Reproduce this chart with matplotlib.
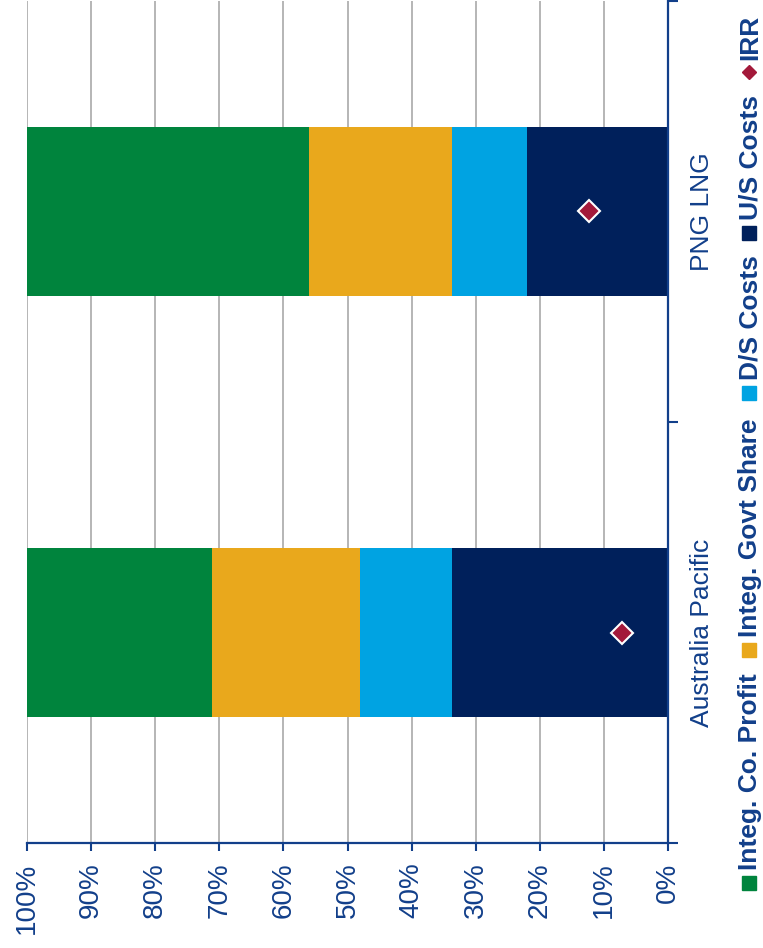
"""
Integrated value split per project, stacked 100% bars (rotated layout)
"""

import matplotlib.pyplot as plt
import numpy as np

plt.rcParams["font.family"] = ["Liberation Sans", "DejaVu Sans"]

projects = ["Australia Pacific", "PNG LNG"]
series_names = ["U/S Costs", "D/S Costs", "Integ. Govt Share", "Integ. Co. Profit"]
us_costs = [33.7, 22.0]
ds_costs = [14.3, 11.7]
govt_share = [23.1, 22.3]
co_profit = [28.9, 44.0]
irr = [7.2, 12.3]
pct_ticks = list(range(0, 101, 10))

NAVY_TXT = "#123F8A"
colors = {
    "U/S Costs": "#00205B",
    "D/S Costs": "#00A3E2",
    "Integ. Govt Share": "#E9A81C",
    "Integ. Co. Profit": "#00843D",
}
IRR_COLOR = "#A3193A"


def main():
    fig = plt.figure(figsize=(7.63, 9.48), dpi=100)
    ax = fig.add_axes([27 / 763, 1 - 843 / 948, 641 / 763, 842 / 948])

    ypos = np.arange(len(projects))
    left = np.zeros(len(projects))
    for name, vals in zip(series_names, [us_costs, ds_costs, govt_share, co_profit]):
        ax.barh(ypos, vals, left=left, height=0.4, color=colors[name], zorder=2)
        left += np.array(vals)
    ax.plot(irr, ypos, ls="None", marker="D", ms=11, mfc=IRR_COLOR,
            mec="white", mew=1.5, zorder=3)

    ax.set_xlim(100, 0)
    ax.set_ylim(-0.5, len(projects) - 0.5)
    ax.set_xticks(pct_ticks)
    ax.set_xticklabels([f"{t}%" for t in pct_ticks], rotation=90,
                       fontsize=20, color=NAVY_TXT)
    ax.tick_params(axis="x", length=6, width=1.5, color=NAVY_TXT, pad=8)
    ax.grid(axis="x", color="#B5B5B5", lw=1.4, zorder=0)

    ax.yaxis.tick_right()
    ax.set_yticks(np.arange(-0.5, len(projects)))
    ax.set_yticklabels([])
    ax.set_yticks(ypos, minor=True)
    ax.set_yticklabels(projects, minor=True, rotation=90, va="center",
                       fontsize=19, color=NAVY_TXT)
    ax.tick_params(axis="y", which="major", length=7, width=1.5, color=NAVY_TXT)
    ax.tick_params(axis="y", which="minor", length=0, pad=16)

    for side in ["left", "top"]:
        ax.spines[side].set_visible(False)
    for side in ["right", "bottom"]:
        ax.spines[side].set_color(NAVY_TXT)
        ax.spines[side].set_linewidth(1.6)

    # hand-built legend running bottom to top on the right edge
    lax = fig.add_axes([0, 0, 1, 1])
    lax.set_xlim(0, 763)
    lax.set_ylim(948, 0)
    lax.axis("off")
    legend_items = [
        ("Integ. Co. Profit", colors["Integ. Co. Profit"], "s", 883, 870),
        ("Integ. Govt Share", colors["Integ. Govt Share"], "s", 650, 637),
        ("D/S Costs", colors["D/S Costs"], "s", 393, 380),
        ("U/S Costs", colors["U/S Costs"], "s", 233, 220),
        ("IRR", IRR_COLOR, "D", 72, 60),
    ]
    for label, col, mk, my, ty in legend_items:
        lax.plot([749], [my], ls="None", marker=mk, ms=9.5 if mk == "s" else 7,
                 color=col)
        lax.text(757, ty, label, rotation=90, rotation_mode="anchor",
                 ha="left", va="baseline", fontsize=19, fontweight="bold",
                 color=NAVY_TXT)

    fig.savefig("out.png", dpi=100)


if __name__ == "__main__":
    main()
